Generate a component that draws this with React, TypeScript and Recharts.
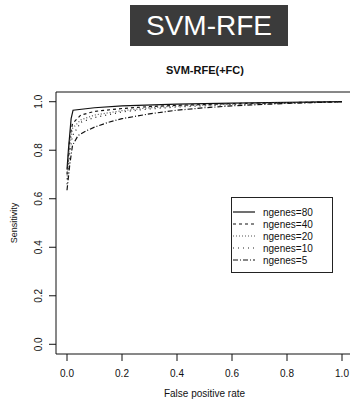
import { LineChart, Line, XAxis, YAxis, ReferenceArea, Legend } from "recharts";

// ROC points, [fpr, sensitivity]
const fpr80 = [0, 0.005, 0.015, 0.022, 0.1, 0.2, 0.4, 0.6, 0.8, 1.0];
const sens80 = [0.72, 0.8, 0.93, 0.965, 0.975, 0.983, 0.99, 0.994, 0.997, 1.0];
const fpr40 = [0, 0.01, 0.02, 0.05, 0.1, 0.2, 0.3, 0.4, 0.6, 0.8, 1.0];
const sens40 = [0.7, 0.85, 0.91, 0.945, 0.96, 0.972, 0.98, 0.985, 0.992, 0.996, 1.0];
const fpr20 = [0, 0.01, 0.02, 0.05, 0.1, 0.2, 0.3, 0.4, 0.6, 0.8, 1.0];
const sens20 = [0.68, 0.82, 0.89, 0.925, 0.945, 0.963, 0.975, 0.982, 0.99, 0.995, 1.0];
const fpr10 = [0, 0.01, 0.02, 0.05, 0.1, 0.2, 0.3, 0.4, 0.6, 0.8, 1.0];
const sens10 = [0.66, 0.79, 0.86, 0.915, 0.935, 0.958, 0.97, 0.978, 0.988, 0.994, 1.0];
const fpr5 = [0, 0.01, 0.02, 0.04, 0.07, 0.1, 0.15, 0.2, 0.3, 0.4, 0.5, 0.6, 0.8, 1.0];
const sens5 = [0.635, 0.74, 0.82, 0.86, 0.88, 0.895, 0.915, 0.93, 0.95, 0.965, 0.975, 0.983, 0.993, 1.0];

const seriesNames = ["ngenes=80", "ngenes=40", "ngenes=20", "ngenes=10", "ngenes=5"];
const axisTicks = [0, 0.2, 0.4, 0.6, 0.8, 1.0];

const toPoints = (xs: number[], ys: number[]) => xs.map((x, i) => ({ x, y: ys[i] }));

const series = [
  { name: seriesNames[0], data: toPoints(fpr80, sens80), dash: undefined, color: "#111" },
  { name: seriesNames[1], data: toPoints(fpr40, sens40), dash: "3 3", color: "#111" },
  { name: seriesNames[2], data: toPoints(fpr20, sens20), dash: "1 2", color: "#555" },
  { name: seriesNames[3], data: toPoints(fpr10, sens10), dash: "1 4", color: "#222" },
  { name: seriesNames[4], data: toPoints(fpr5, sens5), dash: "5 2 1 2", color: "#111" },
];

const FONT = "'Liberation Sans', Arial, sans-serif";

function XTick({ x, y, payload }: any) {
  return (
    <text x={x} y={y + 14} textAnchor="middle" fontSize={10} fontFamily={FONT} fill="#111">
      {payload.value.toFixed(1)}
    </text>
  );
}

function YTick({ x, y, payload }: any) {
  const bx = x - 5;
  return (
    <text x={bx} y={y} transform={`rotate(-90, ${bx}, ${y})`} textAnchor="middle" fontSize={10} fontFamily={FONT} fill="#111">
      {payload.value.toFixed(1)}
    </text>
  );
}

function LegendBox() {
  return (
    <svg width={103} height={77} style={{ display: "block" }}>
      <rect x={0.5} y={0.5} width={101} height={75} fill="#fff" stroke="#222" />
      {series.map((s, i) => {
        const cy = 15 + i * 12;
        return (
          <g key={s.name}>
            <line x1={2} x2={24} y1={cy} y2={cy} stroke={s.color} strokeWidth={1.2} strokeDasharray={s.dash} />
            <text x={32} y={cy + 3.5} fontSize={10} fontFamily={FONT} fill="#111">
              {s.name}
            </text>
          </g>
        );
      })}
    </svg>
  );
}

export default function App() {
  return (
    <div style={{ position: "absolute", left: 0, top: 0, width: 350, height: 403, overflow: "hidden", background: "#fff", fontFamily: FONT }}>
      <div
        style={{
          position: "absolute", left: 130, top: 5, width: 158, height: 41,
          background: "#3b3b3b", color: "#fff", fontSize: 28, lineHeight: "41px", textAlign: "center",
        }}
      >
        SVM-RFE
      </div>
      <div style={{ position: "absolute", left: 105, top: 64, width: 200, textAlign: "center", fontSize: 11, fontWeight: "bold", color: "#111" }}>
        SVM-RFE(+FC)
      </div>
      <LineChart width={356} height={403} margin={{ top: 92, right: 3, bottom: 0, left: 0 }}>
        <XAxis
          dataKey="x"
          type="number"
          domain={[-0.04, 1.04]}
          ticks={axisTicks}
          allowDataOverflow
          axisLine={false}
          tickSize={7}
          tickLine={{ stroke: "#111" }}
          height={49}
          tick={<XTick />}
          interval={0}
        />
        <YAxis
          dataKey="y"
          type="number"
          domain={[-0.04, 1.04]}
          ticks={axisTicks}
          allowDataOverflow
          axisLine={false}
          tickSize={7}
          tickLine={{ stroke: "#111" }}
          width={56}
          tick={<YTick />}
          interval={0}
        />
        <ReferenceArea x1={-0.04} x2={1.04} y1={-0.04} y2={1.04} fill="none" stroke="#111" strokeWidth={1} ifOverflow="visible" />
        {series.map((s) => (
          <Line
            key={s.name}
            data={s.data}
            dataKey="y"
            name={s.name}
            type="linear"
            stroke={s.color}
            strokeWidth={1.2}
            strokeDasharray={s.dash}
            dot={false}
            isAnimationActive={false}
          />
        ))}
        <Legend
          layout="vertical"
          align="center"
          verticalAlign="middle"
          content={() => <LegendBox />}
          wrapperStyle={{ left: 231, top: 197, width: 103, height: 77 }}
        />
      </LineChart>
      <div style={{ position: "absolute", left: 0, top: 223, width: 0, height: 0 }}>
        <div style={{ position: "absolute", left: 4, top: 0, transform: "translate(-50%, -50%) rotate(-90deg) translate(0, 0)", fontSize: 9, color: "#111", whiteSpace: "nowrap", marginLeft: 10 }}>
          Sensitivity
        </div>
      </div>
      <div style={{ position: "absolute", left: 56, top: 388, width: 297, textAlign: "center", fontSize: 10, color: "#111" }}>
        False positive rate
      </div>
    </div>
  );
}
